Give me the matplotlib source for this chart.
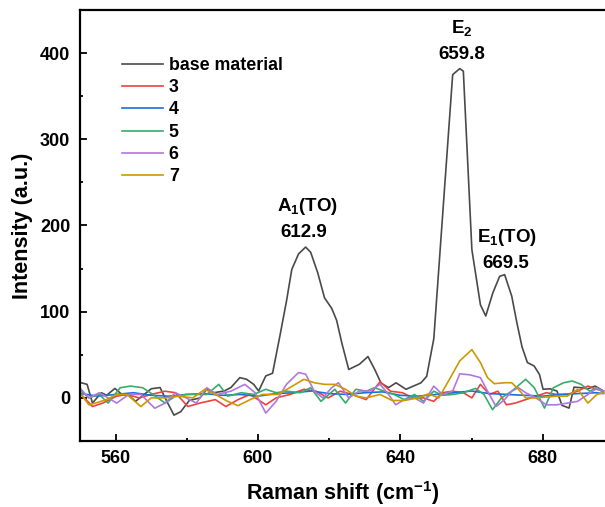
import matplotlib
matplotlib.use("Agg")
import matplotlib.pyplot as plt
from matplotlib.ticker import MultipleLocator

plt.rcParams['font.family'] = ['Liberation Sans', 'DejaVu Sans']
plt.rcParams['font.weight'] = 'bold'
plt.rcParams['mathtext.fontset'] = 'custom'
plt.rcParams['mathtext.rm'] = 'Liberation Sans:bold'
plt.rcParams['mathtext.it'] = 'Liberation Sans:bold'
plt.rcParams['mathtext.bf'] = 'Liberation Sans:bold'

labels = ['base material', '3', '4', '5', '6', '7']
colors = ['#4a4a4a', '#F14040', '#1A6FDF', '#37AD6B', '#B177DE', '#CC9900']

x_base = [550.3, 552.0, 553.5, 556.0, 557.5, 559.8, 561.8, 563.7, 565.6, 570.0, 572.5, 573.9,
          576.4, 578.3, 580.7, 583.7, 585.6, 587.6, 590.5, 592.4, 594.9, 596.8, 598.8, 600.2,
          602.2, 604.1, 606.1, 608.0, 609.5, 611.4, 613.4, 614.8, 616.8, 618.7, 620.7, 622.1,
          623.6, 625.5, 628.5, 630.9, 632.8, 634.6, 636.7, 638.8, 641.6, 645.8, 647.4, 649.4,
          654.7, 656.7, 657.7, 660.1, 662.5, 664.0, 666.0, 667.9, 669.3, 671.3, 672.8, 674.2,
          675.7, 677.6, 679.1, 680.1, 682.0, 684.0, 685.4, 687.4, 688.8, 690.8, 692.7, 694.7, 697.1]
y_base = [17.6, 15.7, -6, 6, 3, 11, 4, 3, -4, 10.6, 12, 0,
          -20, -16, -3, 0, 10, 6, 8, 12, 23.5, 21.6, 15.7, 8,
          25.5, 28.6, 70.6, 112, 149, 167, 175, 169, 145, 116, 104, 90,
          63, 33, 39, 48, 33, 17, 12, 17.5, 10, 17.5, 25, 68.6,
          375, 382, 379, 172, 108, 95, 122, 141, 143, 118, 86, 59,
          41, 37, 27, 10, 10.6, 8, -8.6, -11.8, 12.5, 11.8, 10.6, 13.7, 8]

x_s3 = [550.3, 553.5, 556.4, 560.3, 563.2, 566.6, 570.0, 573.9, 576.8, 580.3, 583.7, 588.0,
        591.0, 594.4, 597.8, 602.2, 605.1, 609.0, 612.9, 616.3, 619.7, 623.1, 626.5, 630.4,
        634.3, 637.2, 640.6, 643.5, 646.5, 649.4, 651.8, 654.7, 657.7, 660.1, 662.5, 665.0,
        667.4, 669.8, 672.3, 675.2, 678.1, 681.0, 684.0, 686.9, 689.8, 692.7, 695.2, 697.1]
y_s3 = [4, -10, -6, 2, 4, 0, 4, 7.8, 6, -10, -6, -2,
        -10, -2, 4, -8, 0, 4, 10, 7.8, 0, 7.8, 4, -2,
        18.8, 7.8, 6, 0, 0, -4, 6, 7.8, 6, 0, 15.7, 4,
        7.8, -8, -6, -2, 2, 6, 4, 4, 7.8, 13.7, 10, 7.8]

x_s4 = [550.3, 555.0, 560.0, 565.0, 570.0, 575.0, 580.0, 585.0, 590.0, 595.0, 600.0, 605.0,
        610.0, 615.0, 620.0, 625.0, 630.0, 635.0, 640.0, 645.0, 650.0, 655.0, 660.0, 665.0,
        670.0, 675.0, 680.0, 685.0, 690.0, 695.0, 697.1]
y_s4 = [5, 2, 4, 6, 3, 2, 4, 5, 3, 4, 2, 5,
        6, 8, 5, 4, 6, 7, 3, 2, 4, 6, 8, 5,
        4, 3, 2, 4, 5, 6, 5]

x_s5 = [550.3, 552.5, 555.4, 557.9, 561.3, 564.2, 567.6, 570.5, 573.9, 576.8, 579.8, 582.7,
        585.6, 589.0, 591.5, 595.3, 598.8, 602.2, 605.1, 608.0, 611.9, 614.8, 617.7, 621.6,
        624.6, 627.5, 630.4, 632.8, 635.3, 638.2, 641.1, 644.0, 646.5, 649.4, 651.8, 654.7,
        657.7, 661.1, 663.5, 665.9, 668.4, 671.3, 675.2, 677.6, 680.5, 683.0, 685.9, 688.3,
        690.8, 693.2, 695.2, 697.1]
y_s5 = [7.8, 0, 4, -6, 11.8, 13.7, 11.8, 4, -6, 2, 4, 4,
        4, 15.7, 2, 6, 4, 10, 6, 7.8, 6, 11.8, -4, 10,
        -6, 10, 7.8, 11.8, 8, 4, -2, 4, -4, 7.8, 3, 4,
        6, 11, 4, -13.7, 0, 7.8, 21.6, 12, -11.8, 11.8, 17.6, 19.6,
        15.7, 7.8, 11.8, 6]

x_s6 = [550.3, 552.5, 555.4, 557.9, 560.3, 563.7, 567.1, 571.0, 573.9, 576.8, 579.8, 582.7,
        585.6, 588.5, 592.4, 596.3, 599.2, 602.2, 605.1, 608.0, 611.4, 613.4, 615.8, 618.2,
        620.7, 622.6, 625.5, 628.5, 631.4, 634.3, 636.7, 638.7, 641.1, 644.0, 646.5, 649.4,
        651.8, 654.7, 656.7, 659.6, 662.5, 664.5, 666.9, 669.3, 671.3, 673.2, 675.2, 678.1,
        681.0, 684.0, 686.9, 689.8, 692.7, 695.2, 697.1]
y_s6 = [10, 0, 6, 0, -6, 4, 4, -12, -6, 6, 0, -6,
        11.8, 4, 7.8, 15.7, 6, -17.6, -4, 15.7, 29.4, 27.5, 8, 0,
        11.8, 17.6, 0, 8, 8, 15.7, 4, -8, -2, 0, -6, 13.7,
        4, 7.8, 28, 26.7, 23.5, 7.8, -10, -2, 7.8, 11.8, 6, 0,
        -8, -8, -6, -4, 4, 11, 8]

x_s7 = [550.3, 552.5, 554.4, 557.4, 560.3, 563.2, 567.1, 570.0, 573.9, 577.8, 581.7, 585.1,
        588.0, 591.5, 594.4, 597.8, 601.2, 605.6, 609.0, 612.9, 615.8, 618.7, 621.6, 624.6,
        627.5, 630.4, 634.3, 637.7, 641.1, 645.0, 647.9, 650.8, 653.8, 656.7, 660.1, 662.5,
        664.5, 666.4, 669.3, 671.3, 673.2, 675.2, 678.1, 681.0, 684.0, 686.9, 689.8, 692.7,
        695.2, 697.1]
y_s7 = [4, -8, -6, -2, 4, 4, -10, 0, 0, 2, 0, 10,
        4, -4, -9, -2, 4, 4, 12, 21.6, 17.6, 15.7, 15.7, 10,
        2, 0, 4, -3, -3, 0, 4.7, 0, 21.6, 43, 56, 41,
        23.5, 16.5, 17.6, 17.6, 10, 0, 0, 1, 2, 2, 10, -6,
        4, 6]

xs = [x_base, x_s3, x_s4, x_s5, x_s6, x_s7]
ys = [y_base, y_s3, y_s4, y_s5, y_s6, y_s7]

annotations = [
    ('A$_1$(TO)', 614.0, 222),
    ('612.9', 612.8, 191.5),
    ('E$_2$', 657.2, 429),
    ('659.8', 657.2, 398),
    ('E$_1$(TO)', 670.0, 186),
    ('669.5', 669.7, 155.5),
]

fig = plt.figure(figsize=(6.05, 5.07), dpi=100)
ax = fig.add_axes([80/605, 1 - 441/507, 1 - 80/605, 431/507])

for x, y, c, lab in zip(xs, ys, colors, labels):
    ax.plot(x, y, color=c, lw=1.2, label=lab)

for txt, xv, yv in annotations:
    ax.text(xv, yv, txt, ha='center', va='center', fontsize=13.5, fontweight='bold')

ax.set_xlim(550, 697.5)
ax.set_ylim(-50, 450)
ax.xaxis.set_major_locator(MultipleLocator(40))
ax.xaxis.set_minor_locator(MultipleLocator(20))
ax.yaxis.set_major_locator(MultipleLocator(100))
ax.yaxis.set_minor_locator(MultipleLocator(50))
ax.tick_params(which='both', direction='in', width=1.3, labelsize=13)
ax.tick_params(which='major', length=5)
ax.tick_params(which='minor', length=2.5)
ax.tick_params(axis='x', which='both', pad=6.5)
ax.tick_params(axis='y', which='both', pad=7)
for lbl in ax.get_xticklabels() + ax.get_yticklabels():
    lbl.set_fontweight('bold')
for s in ['left', 'bottom', 'top']:
    ax.spines[s].set_linewidth(1.6)
ax.spines['right'].set_visible(False)

ax.set_xlabel('Raman shift (cm$^{-1}$)', fontsize=15.5, fontweight='bold', labelpad=9)
ax.set_ylabel('Intensity (a.u.)', fontsize=15.5, fontweight='bold', labelpad=5)

leg = ax.legend(loc='upper left', bbox_to_anchor=(0.0665, 0.908), frameon=False,
                fontsize=12.8, handlelength=2.3, handletextpad=0.33, labelspacing=0.3,
                borderaxespad=0)
for t in leg.get_texts():
    t.set_fontweight('bold')

fig.savefig('out.png', dpi=100)
